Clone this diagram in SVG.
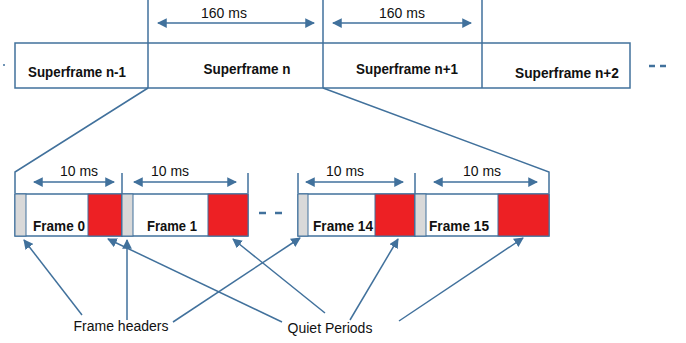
<svg xmlns="http://www.w3.org/2000/svg" width="686" height="343" viewBox="0 0 686 343">
<style>
.ln{stroke:#41719c;stroke-width:1.5;fill:none}
.box{stroke:#41719c;stroke-width:1.5;fill:#fff}
.hdr{stroke:#41719c;stroke-width:1;fill:#d9d9d9}
.qp{stroke:#41719c;stroke-width:1;fill:#ed2024}
.t{font-family:"Liberation Sans",Arial,sans-serif;font-size:14.5px;font-weight:bold;fill:#111;text-anchor:middle}
.s{font-family:"Liberation Sans",Arial,sans-serif;font-size:14px;fill:#111;text-anchor:middle}
.d{stroke:#41719c;stroke-width:1.5;fill:none;marker-start:url(#ah);marker-end:url(#ah)}
.p{stroke:#41719c;stroke-width:1.5;fill:none;marker-end:url(#ah)}
.dash{stroke:#41719c;stroke-width:2.5;fill:none}
</style>
<defs>
<marker id="ah" viewBox="0 0 10 10" refX="9" refY="5" markerWidth="6.5" markerHeight="6.5" orient="auto-start-reverse" markerUnits="strokeWidth">
<path d="M0,0 L10,5 L0,10 z" fill="#41719c"/>
</marker>
</defs>
<g id="superframes">
<rect class="box" x="15" y="43" width="615" height="45"/>
<line class="ln" x1="148" y1="0" x2="148" y2="88"/>
<line class="ln" x1="323" y1="0" x2="323" y2="88"/>
<line class="ln" x1="482" y1="0" x2="482" y2="88"/>
<text class="t" x="77" y="77" textLength="98" lengthAdjust="spacingAndGlyphs">Superframe n-1</text>
<text class="t" x="247" y="74" textLength="87" lengthAdjust="spacingAndGlyphs">Superframe n</text>
<text class="t" x="407" y="74" textLength="102" lengthAdjust="spacingAndGlyphs">Superframe n+1</text>
<text class="t" x="567" y="78" textLength="104" lengthAdjust="spacingAndGlyphs">Superframe n+2</text>
<circle cx="4" cy="65" r="1" fill="#41719c"/>
<line class="dash" x1="649" y1="66" x2="655" y2="66"/>
<line class="dash" x1="660" y1="66" x2="666" y2="66"/>
</g>
<g id="sf-durations">
<line class="d" x1="158" y1="23" x2="314" y2="23"/>
<text class="s" x="224" y="18">160 ms</text>
<line class="d" x1="333" y1="23" x2="471" y2="23"/>
<text class="s" x="402" y="18">160 ms</text>
</g>
<g id="zoom-lines">
<polyline class="ln" points="148,88 15,172 15,193"/>
<polyline class="ln" points="323,88 549,172 549,193"/>
<line class="ln" x1="122" y1="173" x2="122" y2="193"/>
<line class="ln" x1="248" y1="173" x2="248" y2="193"/>
<line class="ln" x1="298" y1="173" x2="298" y2="193"/>
<line class="ln" x1="415" y1="173" x2="415" y2="193"/>
</g>
<g id="frame0">
<rect class="box" x="15" y="194" width="107" height="42"/>
<rect class="hdr" x="15" y="194" width="11" height="42"/>
<rect class="qp" x="88" y="194" width="34" height="42"/>
<text class="t" x="59" y="231" textLength="52" lengthAdjust="spacingAndGlyphs">Frame 0</text>
<line class="d" x1="34" y1="182" x2="114" y2="182"/>
<text class="s" x="79" y="176">10 ms</text>
</g>
<g id="frame1">
<rect class="box" x="122" y="194" width="126" height="42"/>
<rect class="hdr" x="122" y="194" width="11" height="42"/>
<rect class="qp" x="208" y="194" width="40" height="42"/>
<text class="t" x="172" y="231" textLength="50" lengthAdjust="spacingAndGlyphs">Frame 1</text>
<line class="d" x1="134" y1="182" x2="236" y2="182"/>
<text class="s" x="170" y="176">10 ms</text>
</g>
<g id="ellipsis">
<line class="dash" x1="259" y1="213" x2="266" y2="213"/>
<line class="dash" x1="275" y1="213" x2="282" y2="213"/>
</g>
<g id="frame14">
<rect class="box" x="298" y="194" width="117" height="42"/>
<rect class="hdr" x="298" y="194" width="10" height="42"/>
<rect class="qp" x="375" y="194" width="40" height="42"/>
<text class="t" x="343" y="231" textLength="60" lengthAdjust="spacingAndGlyphs">Frame 14</text>
<line class="d" x1="306" y1="182" x2="403" y2="182"/>
<text class="s" x="345" y="176">10 ms</text>
</g>
<g id="frame15">
<rect class="box" x="415" y="194" width="134" height="42"/>
<rect class="hdr" x="415" y="194" width="11" height="42"/>
<rect class="qp" x="498" y="194" width="51" height="42"/>
<text class="t" x="459" y="231" textLength="60" lengthAdjust="spacingAndGlyphs">Frame 15</text>
<line class="d" x1="434" y1="182" x2="537" y2="182"/>
<text class="s" x="482" y="176">10 ms</text>
</g>
<g id="labels">
<text class="s" x="121" y="331">Frame headers</text>
<text class="s" x="330" y="333">Quiet Periods</text>
</g>
<g id="pointers">
<line class="p" x1="82" y1="315" x2="24" y2="240"/>
<line class="p" x1="127" y1="320" x2="127" y2="240"/>
<line class="p" x1="173" y1="322" x2="300" y2="238"/>
<line class="p" x1="282" y1="322" x2="108" y2="239"/>
<line class="p" x1="325" y1="313" x2="233" y2="239"/>
<line class="p" x1="350" y1="320" x2="398" y2="239"/>
<line class="p" x1="399" y1="321" x2="523" y2="238"/>
</g>
</svg>
